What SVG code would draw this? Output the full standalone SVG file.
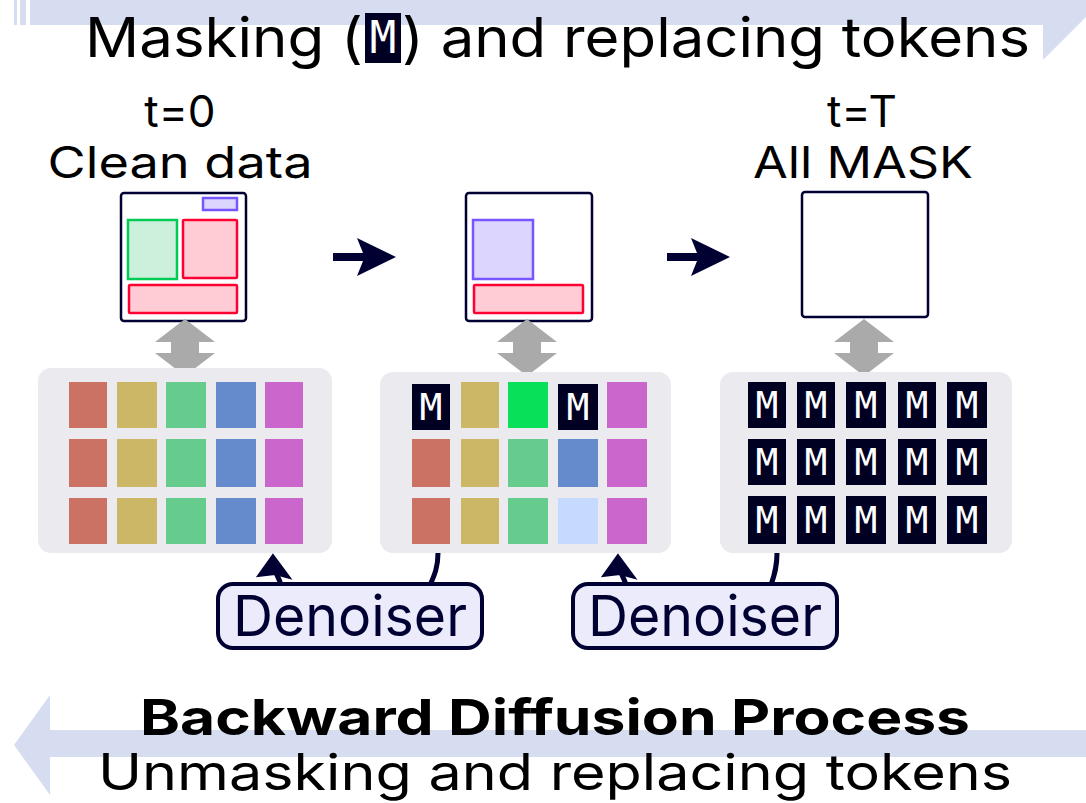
<svg xmlns="http://www.w3.org/2000/svg" width="1086" height="803" viewBox="0 0 1086 803">
<style>
.t{font-family:Inter,"Liberation Sans",sans-serif;fill:#000;}
.band{fill:#d6ddf0;}
.doc{fill:#fff;stroke:#000033;stroke-width:2.5;}
.panel{fill:#eaeaef;}
.mk{fill:#000022;}
.mt{font-family:"DejaVu Sans Mono","Liberation Mono",monospace;font-size:38px;fill:#fff;text-anchor:middle;}
.den{fill:#ebebfc;stroke:#000033;stroke-width:4;}
.dt{font-family:Inter,"Liberation Sans",sans-serif;font-size:56px;fill:#000033;text-anchor:middle;}
.conn{fill:none;stroke:#000033;stroke-width:5;}
.head{fill:#000033;stroke:#000033;stroke-width:2;stroke-linejoin:miter;}
.r{fill:#cb7265}.y{fill:#ccb766}.g{fill:#66cc8e}.b{fill:#668bcc}.m{fill:#cb66cc}.bg{fill:#08e05a}.lb{fill:#c4daff}
</style>
<defs>
<polygon id="dbl" points="0,0 30,23 14,23 14,34 30,34 0,57 -30,34 -14,34 -14,23 -30,23" fill="#aaaaaa"/>
<polygon id="rarr" points="0,0 30,0 24,-15 63,4 24,23 30,8 0,8" fill="#000033"/>
<polygon id="uph" points="0,0 17,23 2,19 -15,21"/>
</defs>

<g id="forward-arrow">
<rect class="band" x="14" y="0" width="3" height="25"/>
<rect class="band" x="20" y="0" width="6" height="25"/>
<rect class="band" x="30" y="0" width="1013" height="25"/>
<polygon class="band" points="1043,-40 1043,60 1103,0"/>
</g>
<g id="backward-arrow">
<rect class="band" x="48" y="730" width="1038" height="27"/>
<polygon class="band" points="50,695 50,795 14,745"/>
</g>

<g id="title-top">
<text class="t" x="85" y="57" font-size="55" textLength="278" lengthAdjust="spacingAndGlyphs">Masking (</text>
<rect class="mk" x="365" y="13" width="36" height="50"/>
<text class="mt" x="383" y="53" style="font-size:44px">M</text>
<text class="t" x="402" y="57" font-size="55" textLength="628" lengthAdjust="spacingAndGlyphs">) and replacing tokens</text>
</g>

<g id="label-t0">
<text class="t" x="180" y="127" font-size="44" text-anchor="middle">t=0</text>
<text class="t" x="180" y="178" font-size="44" text-anchor="middle" textLength="265" lengthAdjust="spacingAndGlyphs">Clean data</text>
</g>
<g id="label-tT">
<text class="t" x="862" y="127" font-size="44" text-anchor="middle">t=T</text>
<text class="t" x="863" y="178" font-size="44" text-anchor="middle" textLength="220" lengthAdjust="spacingAndGlyphs">All MASK</text>
</g>

<g id="doc1">
<rect class="doc" x="121" y="193" width="125" height="128" rx="3"/>
<rect x="203" y="198" width="34" height="12" fill="#dcd6ff" stroke="#7755ff" stroke-width="2.5"/>
<rect x="128" y="220" width="49" height="59" fill="#cdf0dc" stroke="#00cc55" stroke-width="2.5"/>
<rect x="183" y="220" width="54" height="58" fill="#ffccd5" stroke="#ff0033" stroke-width="2.5" rx="1"/>
<rect x="129" y="285" width="108" height="28" fill="#ffccd5" stroke="#ff0033" stroke-width="2.5" rx="1"/>
</g>
<g id="doc2">
<rect class="doc" x="466" y="193" width="126" height="128" rx="3"/>
<rect x="473" y="220" width="60" height="59" fill="#dcd6ff" stroke="#7755ff" stroke-width="2.5"/>
<rect x="474" y="285" width="109" height="28" fill="#ffccd5" stroke="#ff0033" stroke-width="2.5" rx="1"/>
</g>
<g id="doc3">
<rect class="doc" x="802" y="192" width="126" height="125" rx="3"/>
</g>

<g id="step-arrows">
<use href="#rarr" x="333" y="253"/>
<use href="#rarr" x="667" y="253"/>
</g>

<g id="swap-arrows">
<use href="#dbl" x="185" y="319"/>
<use href="#dbl" x="527" y="319"/>
<use href="#dbl" x="864" y="319"/>
</g>

<g id="panel1">
<rect class="panel" x="38" y="368" width="294" height="185" rx="13"/>
<rect class="r" x="69" y="382" width="38" height="46"/><rect class="y" x="117" y="382" width="40" height="46"/><rect class="g" x="166" y="382" width="40" height="46"/><rect class="b" x="216" y="382" width="40" height="46"/><rect class="m" x="265" y="382" width="38" height="46"/>
<rect class="r" x="69" y="439" width="38" height="48"/><rect class="y" x="117" y="439" width="40" height="48"/><rect class="g" x="166" y="439" width="40" height="48"/><rect class="b" x="216" y="439" width="40" height="48"/><rect class="m" x="265" y="439" width="38" height="48"/>
<rect class="r" x="69" y="498" width="38" height="46"/><rect class="y" x="117" y="498" width="40" height="46"/><rect class="g" x="166" y="498" width="40" height="46"/><rect class="b" x="216" y="498" width="40" height="46"/><rect class="m" x="265" y="498" width="38" height="46"/>
</g>

<g id="panel2">
<rect class="panel" x="380" y="372" width="291" height="181" rx="13"/>
<rect class="mk" x="412" y="384" width="38" height="46"/><text class="mt" x="431" y="420">M</text>
<rect class="y" x="461" y="382" width="38" height="46"/><rect class="bg" x="508" y="382" width="40" height="46"/>
<rect class="mk" x="558" y="384" width="40" height="46"/><text class="mt" x="578" y="420">M</text>
<rect class="m" x="607" y="382" width="40" height="46"/>
<rect class="r" x="412" y="439" width="38" height="48"/><rect class="y" x="461" y="439" width="38" height="48"/><rect class="g" x="508" y="439" width="40" height="48"/><rect class="b" x="558" y="439" width="40" height="48"/><rect class="m" x="607" y="439" width="40" height="48"/>
<rect class="r" x="412" y="498" width="38" height="46"/><rect class="y" x="461" y="498" width="38" height="46"/><rect class="g" x="508" y="498" width="40" height="46"/><rect class="lb" x="558" y="498" width="40" height="46"/><rect class="m" x="607" y="498" width="40" height="46"/>
</g>

<g id="panel3">
<rect class="panel" x="720" y="372" width="292" height="181" rx="13"/>
<rect class="mk" x="748" y="382" width="38" height="46"/><rect class="mk" x="797" y="382" width="38" height="46"/><rect class="mk" x="846" y="382" width="40" height="46"/><rect class="mk" x="898" y="382" width="38" height="46"/><rect class="mk" x="947" y="382" width="40" height="46"/>
<rect class="mk" x="748" y="439" width="38" height="46"/><rect class="mk" x="797" y="439" width="38" height="46"/><rect class="mk" x="846" y="439" width="40" height="46"/><rect class="mk" x="898" y="439" width="38" height="46"/><rect class="mk" x="947" y="439" width="40" height="46"/>
<rect class="mk" x="748" y="496" width="38" height="48"/><rect class="mk" x="797" y="496" width="38" height="48"/><rect class="mk" x="846" y="496" width="40" height="48"/><rect class="mk" x="898" y="496" width="38" height="48"/><rect class="mk" x="947" y="496" width="40" height="48"/>
<text class="mt" x="767" y="418">M</text><text class="mt" x="816" y="418">M</text><text class="mt" x="866" y="418">M</text><text class="mt" x="917" y="418">M</text><text class="mt" x="967" y="418">M</text>
<text class="mt" x="767" y="475">M</text><text class="mt" x="816" y="475">M</text><text class="mt" x="866" y="475">M</text><text class="mt" x="917" y="475">M</text><text class="mt" x="967" y="475">M</text>
<text class="mt" x="767" y="533">M</text><text class="mt" x="816" y="533">M</text><text class="mt" x="866" y="533">M</text><text class="mt" x="917" y="533">M</text><text class="mt" x="967" y="533">M</text>
</g>

<g id="connectors">
<path class="conn" d="M281,585 C279,578 276,574 275,570"/>
<use href="#uph" class="head" x="273" y="555"/>
<path class="conn" d="M438,553 C438,568 434,576 430,585"/>
<path class="conn" d="M626,585 C624,578 621,574 620,570"/>
<use href="#uph" class="head" x="618" y="555"/>
<path class="conn" d="M777,553 C777,568 774,576 771,585"/>
</g>

<g id="denoiser1">
<rect class="den" x="218" y="584" width="264" height="64" rx="15"/>
<text class="dt" x="350" y="636" textLength="234" lengthAdjust="spacingAndGlyphs">Denoiser</text>
</g>
<g id="denoiser2">
<rect class="den" x="573" y="584" width="264" height="64" rx="15"/>
<text class="dt" x="705" y="636" textLength="234" lengthAdjust="spacingAndGlyphs">Denoiser</text>
</g>

<g id="bottom-title">
<text class="t" x="555" y="735" font-size="50" font-weight="bold" text-anchor="middle" textLength="830" lengthAdjust="spacingAndGlyphs">Backward Diffusion Process</text>
<text class="t" x="555" y="790" font-size="50" text-anchor="middle" textLength="914" lengthAdjust="spacingAndGlyphs">Unmasking and replacing tokens</text>
</g>
</svg>
